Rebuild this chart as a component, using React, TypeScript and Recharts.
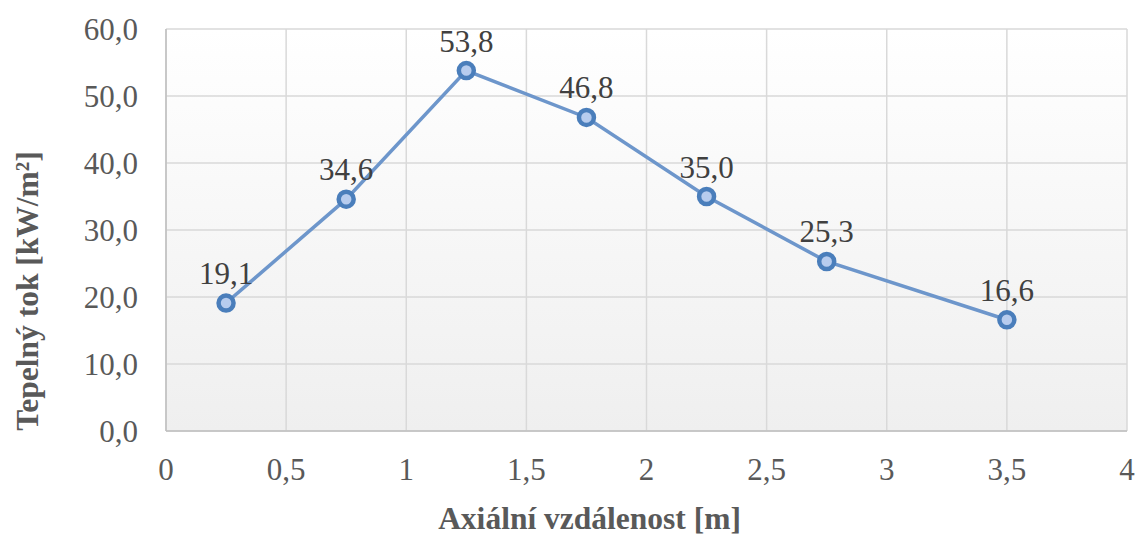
import { LineChart, Line, XAxis, YAxis, CartesianGrid, LabelList, Label } from "recharts";

const distance = [0.25, 0.75, 1.25, 1.75, 2.25, 2.75, 3.5];
const heatFlux = [19.1, 34.6, 53.8, 46.8, 35.0, 25.3, 16.6];
const xTicks = [0, 0.5, 1, 1.5, 2, 2.5, 3, 3.5, 4];
const yTicks = [0, 10, 20, 30, 40, 50, 60];

const data = distance.map((x, i) => ({ x, y: heatFlux[i] }));

const FONT = "Liberation Serif";
const comma = (v: number, d?: number) =>
  (d === undefined ? String(v) : v.toFixed(d)).replace(".", ",");

const XTick = ({ x, y, payload }: any) => (
  <text x={x} y={y + 41} textAnchor="middle" fill="#595959" fontSize={31} fontFamily={FONT}>
    {comma(payload.value)}
  </text>
);

const YTick = ({ x, y, payload }: any) => (
  <text x={138} y={y + 11} textAnchor="end" fill="#595959" fontSize={31} fontFamily={FONT}>
    {comma(payload.value, 1)}
  </text>
);

const PointLabel = ({ x, y, value }: any) => (
  <text x={x} y={y - 19} textAnchor="middle" fill="#404040" fontSize={31} fontFamily={FONT}>
    {comma(value, 1)}
  </text>
);

export default function App() {
  return (
    <div style={{ position: "absolute", left: 0, top: 0, background: "#fff" }}>
      <svg width={0} height={0} style={{ position: "absolute" }}>
        <defs>
          <linearGradient id="plotBg" x1="0" y1="0" x2="0" y2="1">
            <stop offset="0%" stopColor="#ffffff" />
            <stop offset="100%" stopColor="#efefef" />
          </linearGradient>
        </defs>
      </svg>
      <LineChart
        width={1137}
        height={537}
        data={data}
        margin={{ top: 29, right: 10, left: 0, bottom: 0 }}
      >
        <CartesianGrid stroke="#d9d9d9" strokeWidth={1.5} fill="url(#plotBg)" />
        <XAxis
          type="number"
          dataKey="x"
          domain={[0, 4]}
          ticks={xTicks}
          height={106}
          stroke="#bfbfbf"
          strokeWidth={1.5}
          tickLine={false}
          tick={<XTick />}
        >
          <Label
            value="Axiální vzdálenost [m]"
            position="insideBottom"
            offset={8}
            dx={-57}
            fill="#595959"
            fontSize={31.5}
            fontWeight="bold"
            fontFamily={FONT}
          />
        </XAxis>
        <YAxis
          type="number"
          domain={[0, 60]}
          ticks={yTicks}
          width={166}
          stroke="#bfbfbf"
          strokeWidth={1.5}
          tickLine={false}
          tick={<YTick />}
        >
          <Label
            content={() => (
              <text
                transform="translate(38, 291) rotate(-90)"
                textAnchor="middle"
                fill="#595959"
                fontSize={31.5}
                fontWeight="bold"
                fontFamily={FONT}
              >
                Tepelný tok [kW/m²]
              </text>
            )}
          />
        </YAxis>
        <Line
          dataKey="y"
          stroke="#6d96cb"
          strokeWidth={3.5}
          isAnimationActive={false}
          dot={{ r: 7.5, fill: "#b7ccee", stroke: "#4a7ebb", strokeWidth: 4.5 }}
          activeDot={false}
        >
          <LabelList dataKey="y" content={<PointLabel />} />
        </Line>
      </LineChart>
    </div>
  );
}
